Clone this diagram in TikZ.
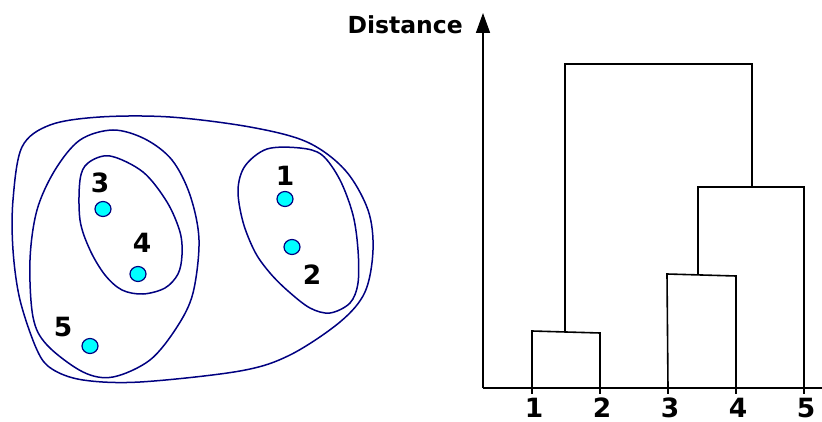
\documentclass[tikz,border=0pt]{standalone}
\usepackage{fontspec}
\setmainfont{DejaVu Sans}
\usepackage{xcolor}
\usetikzlibrary{arrows.meta,shapes.geometric}

\definecolor{hullblue}{RGB}{0,0,128}
\definecolor{ptcyan}{RGB}{0,255,255}

\begin{document}
\begin{tikzpicture}[
  x=1pt, y=-1pt, >={Triangle[length=20pt,width=14pt]},
  hull/.style={draw=hullblue, line width=1.5pt},
  pt/.style={draw=hullblue, line width=1.2pt, fill=ptcyan, ellipse, minimum width=16pt, minimum height=15pt, inner sep=0pt},
  lbl/.style={inner sep=0pt, font=\fontsize{26.5}{30}\selectfont\bfseries},
  link/.style={draw=black, line width=1.6pt},
  axis/.style={draw=black, line width=1.6pt}
]
\useasboundingbox (0,0) rectangle (822,422);

% clusters
\draw[hull] plot[smooth cycle, tension=0.55] coordinates {(13,200) (22,147) (50,125) (100,117) (170,117) (250,127) (307,142) (345,170) (368,210) (373,250) (365,292) (340,322) (290,355) (240,371) (140,382) (83,380) (52,369) (37,350) (20,300) (13,250)};
\draw[hull] plot[smooth cycle, tension=0.55] coordinates {(30,260) (37,210) (55,170) (80,140) (113,130) (145,139) (172,160) (190,195) (199,240) (193,293) (177,327) (150,360) (113,377) (83,372) (47,345) (33,317)};
\draw[hull] plot[smooth cycle, tension=0.55] coordinates {(88,163) (110,156) (143,172) (167,202) (180,232) (182,255) (178,274) (165,288) (143,294) (122,290) (105,275) (90,250) (80,220) (80,180)};
\draw[hull] plot[smooth cycle, tension=0.55] coordinates {(267,149) (300,148) (322,155) (340,180) (353,215) (358,250) (358,283) (350,303) (330,313) (310,308) (288,291) (270,273) (255,252) (243,222) (238,190) (245,166)};

% points
\node[pt] (p1) at (285,199) {};
\node[pt] (p2) at (292,247) {};
\node[pt] (p3) at (103,209) {};
\node[pt] (p4) at (138,274) {};
\node[pt] (p5) at (90,346) {};
\node[lbl] (t1) at (285,176) {1};
\node[lbl] (t2) at (312,275) {2};
\node[lbl] (t3) at (100,183) {3};
\node[lbl] (t4) at (142,243) {4};
\node[lbl] (t5) at (63,327) {5};

% dendrogram
\coordinate (origin) at (483,388);
\coordinate (ytop) at (483,13);
\coordinate (xend) at (822,388);
\draw[axis, ->] (origin) -- (ytop);
\draw[axis] (origin) -- (xend);
\node[lbl, font=\fontsize{23.5}{28}\selectfont\bfseries, anchor=east] (dist) at (463,25) {Distance};

\foreach \i/\x in {1/532,2/600,3/668,4/736,5/804} {
  \coordinate (leaf\i) at (\x,388);
  \draw[axis] (leaf\i) -- ++(0,6);
  \node[lbl] (n\i) at (\x+2,408) {\i};
}

\coordinate (m12a) at (532,331);
\coordinate (m12b) at (600,333);
\coordinate (m34a) at (667,274);
\coordinate (m34b) at (736,276);
\coordinate (m345a) at (698,187);
\coordinate (m345b) at (804,187);
\coordinate (topa) at (565,64);
\coordinate (topb) at (752,64);

\draw[link] (leaf1) -- (m12a) -- (m12b) -- (leaf2);
\draw[link] (leaf3) -- (m34a) -- (m34b) -- (leaf4);
\draw[link] (698,275) -- (m345a) -- (m345b) -- (leaf5);
\draw[link] (565,332) -- (topa) -- (topb) -- (752,187);

\end{tikzpicture}
\end{document}
